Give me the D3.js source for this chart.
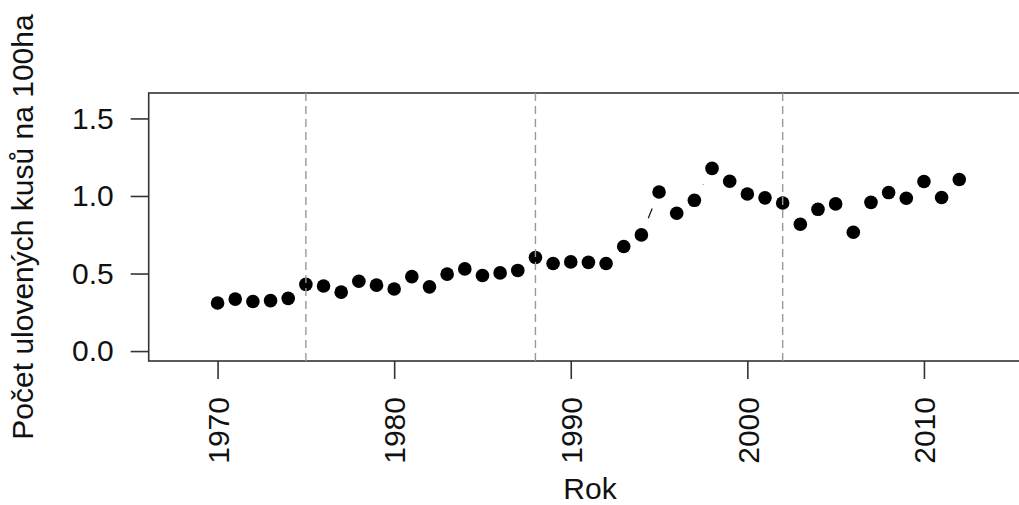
<!DOCTYPE html>
<html>
<head>
<meta charset="utf-8">
<script src="https://cdn.jsdelivr.net/npm/d3@7"></script>
<style>
  html, body { margin: 0; padding: 0; background: #fff; }
  svg { display: block; }
  text { font-family: "Liberation Sans", Arial, sans-serif; fill: #111; }
</style>
</head>
<body>
<svg id="chart" width="1019" height="505"></svg>
<script>
// Harvest density per year
const years = [1970, 1971, 1972, 1973, 1974, 1975, 1976, 1977, 1978, 1979,
               1980, 1981, 1982, 1983, 1984, 1985, 1986, 1987, 1988, 1989,
               1990, 1991, 1992, 1993, 1994, 1995, 1996, 1997, 1998, 1999,
               2000, 2001, 2002, 2003, 2004, 2005, 2006, 2007, 2008, 2009,
               2010, 2011, 2012];
const values = [0.31, 0.335, 0.32, 0.325, 0.34, 0.43, 0.42, 0.38, 0.45, 0.425,
                0.40, 0.48, 0.414, 0.496, 0.53, 0.487, 0.504, 0.52, 0.603, 0.565,
                0.575, 0.572, 0.565, 0.674, 0.749, 1.026, 0.889, 0.972, 1.178, 1.095,
                1.013, 0.988, 0.955, 0.818, 0.914, 0.949, 0.766, 0.959, 1.022, 0.985,
                1.093, 0.99, 1.106];
const xTicks = [1970, 1980, 1990, 2000, 2010];
const yTicks = [0.0, 0.5, 1.0, 1.5];
const breakYears = [1975, 1988, 2002];
const xTitle = "Rok";
const yTitle = "Počet ulovených kusů na 100ha";

const svg = d3.select("#chart");
const plot = { left: 148.7, right: 1035.2, top: 93, bottom: 361 };
const fontSize = 30;

const x = d3.scaleLinear().domain([1966.1, 2016.3]).range([plot.left, plot.right]);
const y = d3.scaleLinear().domain([-0.064, 1.664]).range([plot.bottom, plot.top]);

const data = years.map((yr, i) => ({ year: yr, value: values[i] }));

// Plot frame
svg.append("rect")
  .attr("x", plot.left).attr("y", plot.top)
  .attr("width", plot.right - plot.left).attr("height", plot.bottom - plot.top)
  .attr("fill", "none").attr("stroke", "#333").attr("stroke-width", 1.6);

// Y axis
const yAxis = d3.axisLeft(y).tickValues(yTicks).tickSize(18).tickPadding(17)
  .tickFormat(d3.format(".1f"));
const gy = svg.append("g").attr("transform", `translate(${plot.left},0)`).call(yAxis);
gy.select(".domain").remove();
gy.selectAll(".tick line").attr("stroke", "#333").attr("stroke-width", 1.6);
gy.selectAll(".tick text").attr("font-size", fontSize).attr("fill", "#111")
  .style("font-family", "'Liberation Sans', Arial, sans-serif");

// X axis with vertical labels
const xAxis = d3.axisBottom(x).tickValues(xTicks).tickSize(18).tickFormat(d3.format("d"));
const gx = svg.append("g").attr("transform", `translate(0,${plot.bottom})`).call(xAxis);
gx.select(".domain").remove();
gx.selectAll(".tick line").attr("stroke", "#333").attr("stroke-width", 1.6);
gx.selectAll(".tick text")
  .attr("font-size", fontSize).attr("fill", "#111")
  .style("font-family", "'Liberation Sans', Arial, sans-serif")
  .attr("text-anchor", "end")
  .attr("transform", "translate(0,36) rotate(-90)")
  .attr("x", 0).attr("y", 0).attr("dy", "0.36em");

// Connecting segments, broken around each point
const gap = 18;
const segs = [];
for (let i = 0; i < data.length - 1; i++) {
  const x1 = x(data[i].year), y1 = y(data[i].value);
  const x2 = x(data[i + 1].year), y2 = y(data[i + 1].value);
  const dist = Math.hypot(x2 - x1, y2 - y1);
  if (dist > 2 * gap) {
    const ux = (x2 - x1) / dist, uy = (y2 - y1) / dist;
    segs.push([x1 + ux * gap, y1 + uy * gap, x2 - ux * gap, y2 - uy * gap]);
  }
}
svg.append("g").selectAll("line").data(segs).join("line")
  .attr("x1", d => d[0]).attr("y1", d => d[1])
  .attr("x2", d => d[2]).attr("y2", d => d[3])
  .attr("stroke", "#111").attr("stroke-width", 1.2);

// Points
svg.append("g").selectAll("circle").data(data).join("circle")
  .attr("cx", d => x(d.year)).attr("cy", d => y(d.value))
  .attr("r", 6.8).attr("fill", "#000");

// Dashed period breaks
svg.append("g").selectAll("line").data(breakYears).join("line")
  .attr("x1", d => x(d)).attr("x2", d => x(d))
  .attr("y1", plot.top).attr("y2", plot.bottom)
  .attr("stroke", "#999").attr("stroke-width", 1.4)
  .attr("stroke-dasharray", "8,5");

// Axis titles
svg.append("text")
  .attr("x", 590).attr("y", 499)
  .attr("text-anchor", "middle").attr("font-size", fontSize)
  .text(xTitle);

svg.append("text")
  .attr("transform", `translate(33,${(plot.top + plot.bottom) / 2}) rotate(-90)`)
  .attr("text-anchor", "middle").attr("font-size", fontSize)
  .text(yTitle);
</script>
</body>
</html>
